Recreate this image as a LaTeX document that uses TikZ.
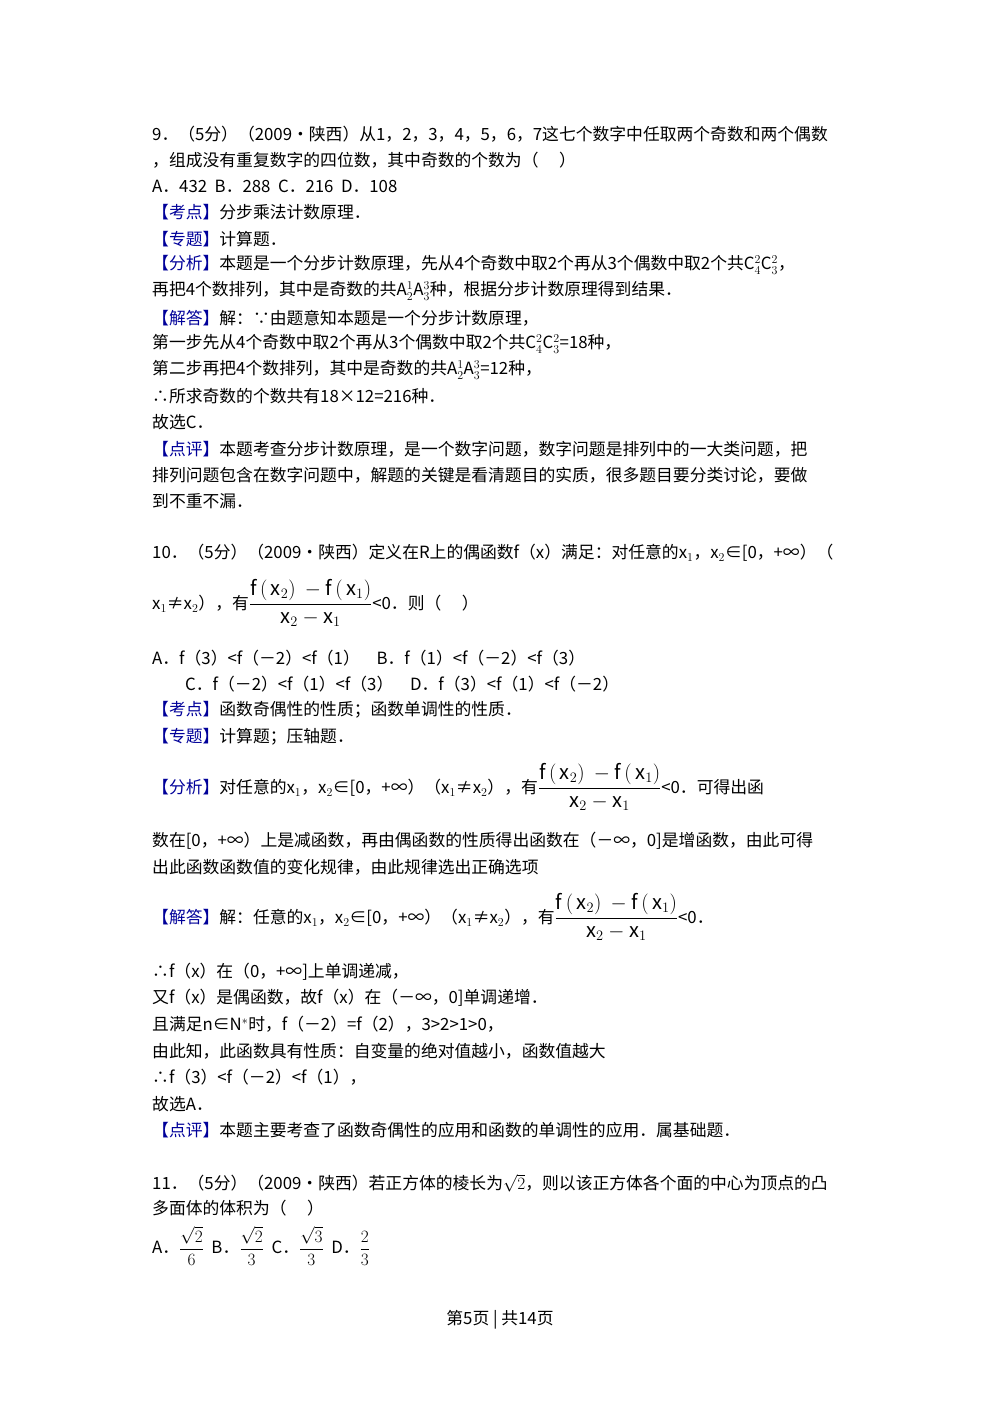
\documentclass[tikz,border=0pt]{standalone}
\usepackage{amsmath}
\usepackage{fontspec}
\setmainfont{Noto Sans CJK SC}
\begin{document}
\begin{tikzpicture}[x=1pt,y=1pt,
  ln/.style={anchor=west,inner sep=0pt,font=\fontsize{16.8}{19}\selectfont}]
\useasboundingbox (0,0) rectangle (1000,-1414);
\newcommand\T[1]{{\color{blue!60!black}【#1】}}
\newcommand\FR{{\fontsize{20}{24}\selectfont$\dfrac{\mathrm{f}\,(\,\mathrm{x}_2)\ -\mathrm{f}\,(\,\mathrm{x}_1)}{\mathrm{x}_2-\mathrm{x}_1}$}}
\node[ln] (l1) at (152,-134) {9．（5分）（2009•陕西）从1，2，3，4，5，6，7这七个数字中任取两个奇数和两个偶数};
\node[ln] (l2) at (152,-160) {，组成没有重复数字的四位数，其中奇数的个数为（\quad\ ）};
\node[ln] (l3) at (152,-186) {A．432\ \ B．288\ \ C．216\ \ D．108};
\node[ln] (l4) at (152,-212) {\T{考点}分步乘法计数原理．};
\node[ln] (l5) at (152,-239) {\T{专题}计算题．};
\node[ln] (l6) at (152,-265) {\T{分析}本题是一个分步计数原理，先从4个奇数中取2个再从3个偶数中取2个共$\mathrm{C}_4^2\mathrm{C}_3^2$，};
\node[ln] (l7) at (152,-291) {再把4个数排列，其中是奇数的共$\mathrm{A}_2^1\mathrm{A}_3^3$种，根据分步计数原理得到结果．};
\node[ln] (l8) at (152,-318) {\T{解答}解：∵由题意知本题是一个分步计数原理，};
\node[ln] (l9) at (152,-344) {第一步先从4个奇数中取2个再从3个偶数中取2个共$\mathrm{C}_4^2\mathrm{C}_3^2$=18种，};
\node[ln] (l10) at (152,-370) {第二步再把4个数排列，其中是奇数的共$\mathrm{A}_2^1\mathrm{A}_3^3$=12种，};
\node[ln] (l11) at (152,-396) {∴所求奇数的个数共有18×12=216种．};
\node[ln] (l12) at (152,-422) {故选C．};
\node[ln] (l13) at (152,-449) {\T{点评}本题考查分步计数原理，是一个数字问题，数字问题是排列中的一大类问题，把};
\node[ln] (l14) at (152,-475) {排列问题包含在数字问题中，解题的关键是看清题目的实质，很多题目要分类讨论，要做};
\node[ln] (l15) at (152,-501) {到不重不漏．};
\node[ln] (m1) at (152,-553) {10．（5分）（2009•陕西）定义在R上的偶函数f（x）满足：对任意的$\mathrm{x}_1$，$\mathrm{x}_2$∈[0，+∞）（};
\node[ln] (m2) at (152,-603) {$\mathrm{x}_1$≠$\mathrm{x}_2$），有\FR<0．则（\quad\ ）};
\node[ln] (m3) at (152,-658) {A．f（3）<f（－2）<f（1）\quad B．f（1）<f（－2）<f（3）};
\node[ln] (m4) at (185,-684) {C．f（－2）<f（1）<f（3）\quad D．f（3）<f（1）<f（－2）};
\node[ln] (m5) at (152,-710) {\T{考点}函数奇偶性的性质；函数单调性的性质．};
\node[ln] (m6) at (152,-737) {\T{专题}计算题；压轴题．};
\node[ln] (m7) at (152,-787) {\T{分析}对任意的$\mathrm{x}_1$，$\mathrm{x}_2$∈[0，+∞）（$\mathrm{x}_1$≠$\mathrm{x}_2$），有\FR<0．可得出函};
\node[ln] (m8) at (152,-841) {数在[0，+∞）上是减函数，再由偶函数的性质得出函数在（－∞，0]是增函数，由此可得};
\node[ln] (m9) at (152,-867) {出此函数函数值的变化规律，由此规律选出正确选项};
\node[ln] (m10) at (152,-917) {\T{解答}解：任意的$\mathrm{x}_1$，$\mathrm{x}_2$∈[0，+∞）（$\mathrm{x}_1$≠$\mathrm{x}_2$），有\FR<0．};
\node[ln] (m11) at (152,-972) {∴f（x）在（0，+∞]上单调递减，};
\node[ln] (m12) at (152,-998) {又f（x）是偶函数，故f（x）在（－∞，0]单调递增．};
\node[ln] (m13) at (152,-1024) {且满足n∈N$^*$时，f（－2）=f（2），3>2>1>0，};
\node[ln] (m14) at (152,-1051) {由此知，此函数具有性质：自变量的绝对值越小，函数值越大};
\node[ln] (m15) at (152,-1077) {∴f（3）<f（－2）<f（1），};
\node[ln] (m16) at (152,-1104) {故选A．};
\node[ln] (m17) at (152,-1130) {\T{点评}本题主要考查了函数奇偶性的应用和函数的单调性的应用．属基础题．};
\node[ln] (n1) at (152,-1183) {11．（5分）（2009•陕西）若正方体的棱长为$\sqrt{2}$，则以该正方体各个面的中心为顶点的凸};
\node[ln] (n2) at (152,-1208) {多面体的体积为（\quad\ ）};
\node[ln] (n3) at (152,-1246) {A．{\fontsize{19}{22}\selectfont$\dfrac{\sqrt2}{6}$}\ \ B．{\fontsize{19}{22}\selectfont$\dfrac{\sqrt2}{3}$}\ \ C．{\fontsize{19}{22}\selectfont$\dfrac{\sqrt3}{3}$}\ \ D．{\fontsize{19}{22}\selectfont$\dfrac{2}{3}$}};
\node[ln,anchor=center] (ft) at (500,-1320) {第5页 | 共14页};
\end{tikzpicture}
\end{document}
